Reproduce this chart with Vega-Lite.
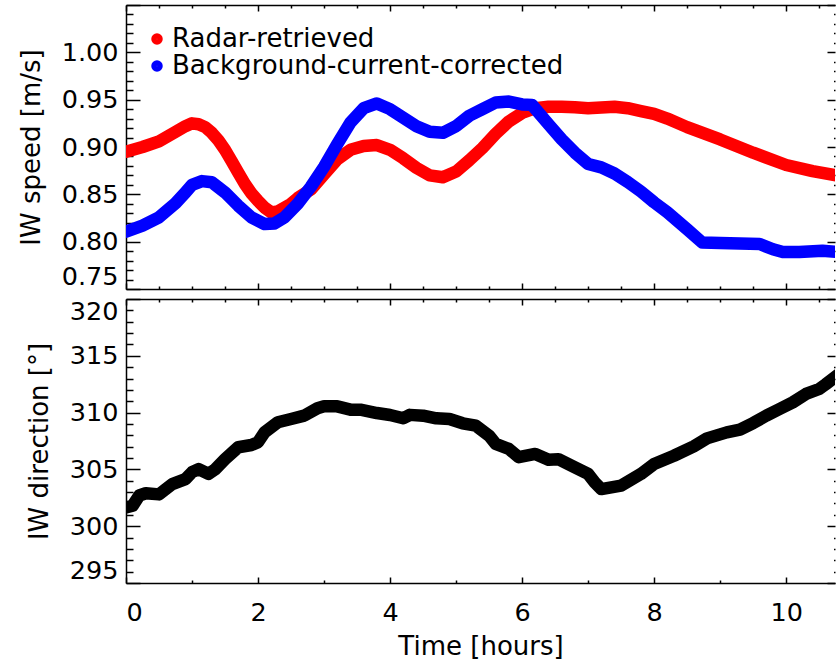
{
  "$schema": "https://vega.github.io/schema/vega-lite/v6.json",
  "padding": {"left": 18, "top": 2, "right": 0, "bottom": 0},
  "background": "white",
  "config": {
    "font": "DejaVu Sans",
    "view": {"stroke": null},
    "axis": {
      "domainColor": "black", "tickColor": "black", "domainWidth": 1.5, "tickWidth": 1.5,
      "labelColor": "black", "titleColor": "black", "labelFont": "DejaVu Sans", "titleFont": "DejaVu Sans",
      "labelFontSize": 25.5, "titleFontSize": 26, "titleFontWeight": "normal", "grid": false, "labelOverlap": false
    }
  },
  "datasets": {
    "speed": [
      {"series": "Radar-retrieved", "t": 0, "v": 0.895},
      {"series": "Radar-retrieved", "t": 0.25, "v": 0.900},
      {"series": "Radar-retrieved", "t": 0.5, "v": 0.906},
      {"series": "Radar-retrieved", "t": 0.75, "v": 0.916},
      {"series": "Radar-retrieved", "t": 0.9, "v": 0.922},
      {"series": "Radar-retrieved", "t": 1.0, "v": 0.925},
      {"series": "Radar-retrieved", "t": 1.1, "v": 0.924},
      {"series": "Radar-retrieved", "t": 1.2, "v": 0.921},
      {"series": "Radar-retrieved", "t": 1.3, "v": 0.915},
      {"series": "Radar-retrieved", "t": 1.4, "v": 0.907},
      {"series": "Radar-retrieved", "t": 1.5, "v": 0.897},
      {"series": "Radar-retrieved", "t": 1.6, "v": 0.885},
      {"series": "Radar-retrieved", "t": 1.7, "v": 0.873},
      {"series": "Radar-retrieved", "t": 1.8, "v": 0.861},
      {"series": "Radar-retrieved", "t": 1.9, "v": 0.851},
      {"series": "Radar-retrieved", "t": 2.0, "v": 0.843},
      {"series": "Radar-retrieved", "t": 2.1, "v": 0.836},
      {"series": "Radar-retrieved", "t": 2.2, "v": 0.831},
      {"series": "Radar-retrieved", "t": 2.3, "v": 0.832},
      {"series": "Radar-retrieved", "t": 2.4, "v": 0.836},
      {"series": "Radar-retrieved", "t": 2.5, "v": 0.840},
      {"series": "Radar-retrieved", "t": 2.6, "v": 0.846},
      {"series": "Radar-retrieved", "t": 2.8, "v": 0.855},
      {"series": "Radar-retrieved", "t": 3.0, "v": 0.871},
      {"series": "Radar-retrieved", "t": 3.2, "v": 0.887},
      {"series": "Radar-retrieved", "t": 3.4, "v": 0.897},
      {"series": "Radar-retrieved", "t": 3.6, "v": 0.901},
      {"series": "Radar-retrieved", "t": 3.8, "v": 0.902},
      {"series": "Radar-retrieved", "t": 4.0, "v": 0.897},
      {"series": "Radar-retrieved", "t": 4.2, "v": 0.888},
      {"series": "Radar-retrieved", "t": 4.4, "v": 0.878},
      {"series": "Radar-retrieved", "t": 4.6, "v": 0.870},
      {"series": "Radar-retrieved", "t": 4.8, "v": 0.868},
      {"series": "Radar-retrieved", "t": 5.0, "v": 0.874},
      {"series": "Radar-retrieved", "t": 5.2, "v": 0.886},
      {"series": "Radar-retrieved", "t": 5.4, "v": 0.899},
      {"series": "Radar-retrieved", "t": 5.6, "v": 0.914},
      {"series": "Radar-retrieved", "t": 5.8, "v": 0.927},
      {"series": "Radar-retrieved", "t": 6.0, "v": 0.936},
      {"series": "Radar-retrieved", "t": 6.2, "v": 0.941},
      {"series": "Radar-retrieved", "t": 6.4, "v": 0.9425},
      {"series": "Radar-retrieved", "t": 6.6, "v": 0.9425},
      {"series": "Radar-retrieved", "t": 6.8, "v": 0.942},
      {"series": "Radar-retrieved", "t": 7.0, "v": 0.941},
      {"series": "Radar-retrieved", "t": 7.2, "v": 0.9418},
      {"series": "Radar-retrieved", "t": 7.4, "v": 0.9425},
      {"series": "Radar-retrieved", "t": 7.6, "v": 0.941},
      {"series": "Radar-retrieved", "t": 7.8, "v": 0.938},
      {"series": "Radar-retrieved", "t": 8.0, "v": 0.935},
      {"series": "Radar-retrieved", "t": 8.2, "v": 0.930},
      {"series": "Radar-retrieved", "t": 8.5, "v": 0.921},
      {"series": "Radar-retrieved", "t": 9.0, "v": 0.908},
      {"series": "Radar-retrieved", "t": 9.5, "v": 0.894},
      {"series": "Radar-retrieved", "t": 10.0, "v": 0.881},
      {"series": "Radar-retrieved", "t": 10.4, "v": 0.8745},
      {"series": "Radar-retrieved", "t": 10.8, "v": 0.8695},
      {"series": "Background-current-corrected", "t": 0, "v": 0.8105},
      {"series": "Background-current-corrected", "t": 0.25, "v": 0.817},
      {"series": "Background-current-corrected", "t": 0.5, "v": 0.8257},
      {"series": "Background-current-corrected", "t": 0.75, "v": 0.8405},
      {"series": "Background-current-corrected", "t": 0.9, "v": 0.852},
      {"series": "Background-current-corrected", "t": 1.0, "v": 0.860},
      {"series": "Background-current-corrected", "t": 1.15, "v": 0.864},
      {"series": "Background-current-corrected", "t": 1.3, "v": 0.8627},
      {"series": "Background-current-corrected", "t": 1.5, "v": 0.852},
      {"series": "Background-current-corrected", "t": 1.7, "v": 0.838},
      {"series": "Background-current-corrected", "t": 1.9, "v": 0.8257},
      {"series": "Background-current-corrected", "t": 2.1, "v": 0.8186},
      {"series": "Background-current-corrected", "t": 2.25, "v": 0.8193},
      {"series": "Background-current-corrected", "t": 2.4, "v": 0.8257},
      {"series": "Background-current-corrected", "t": 2.6, "v": 0.840},
      {"series": "Background-current-corrected", "t": 2.8, "v": 0.858},
      {"series": "Background-current-corrected", "t": 3.0, "v": 0.879},
      {"series": "Background-current-corrected", "t": 3.2, "v": 0.903},
      {"series": "Background-current-corrected", "t": 3.4, "v": 0.926},
      {"series": "Background-current-corrected", "t": 3.6, "v": 0.941},
      {"series": "Background-current-corrected", "t": 3.8, "v": 0.946},
      {"series": "Background-current-corrected", "t": 4.0, "v": 0.940},
      {"series": "Background-current-corrected", "t": 4.2, "v": 0.931},
      {"series": "Background-current-corrected", "t": 4.4, "v": 0.922},
      {"series": "Background-current-corrected", "t": 4.6, "v": 0.916},
      {"series": "Background-current-corrected", "t": 4.8, "v": 0.915},
      {"series": "Background-current-corrected", "t": 5.0, "v": 0.922},
      {"series": "Background-current-corrected", "t": 5.2, "v": 0.933},
      {"series": "Background-current-corrected", "t": 5.4, "v": 0.940},
      {"series": "Background-current-corrected", "t": 5.6, "v": 0.947},
      {"series": "Background-current-corrected", "t": 5.8, "v": 0.948},
      {"series": "Background-current-corrected", "t": 6.0, "v": 0.945},
      {"series": "Background-current-corrected", "t": 6.15, "v": 0.9445},
      {"series": "Background-current-corrected", "t": 6.4, "v": 0.924},
      {"series": "Background-current-corrected", "t": 6.6, "v": 0.908},
      {"series": "Background-current-corrected", "t": 6.8, "v": 0.894},
      {"series": "Background-current-corrected", "t": 7.0, "v": 0.882},
      {"series": "Background-current-corrected", "t": 7.2, "v": 0.8785},
      {"series": "Background-current-corrected", "t": 7.4, "v": 0.872},
      {"series": "Background-current-corrected", "t": 7.6, "v": 0.863},
      {"series": "Background-current-corrected", "t": 7.8, "v": 0.853},
      {"series": "Background-current-corrected", "t": 8.0, "v": 0.8415},
      {"series": "Background-current-corrected", "t": 8.2, "v": 0.831},
      {"series": "Background-current-corrected", "t": 8.5, "v": 0.813},
      {"series": "Background-current-corrected", "t": 8.73, "v": 0.799},
      {"series": "Background-current-corrected", "t": 9.0, "v": 0.7985},
      {"series": "Background-current-corrected", "t": 9.3, "v": 0.798},
      {"series": "Background-current-corrected", "t": 9.6, "v": 0.7975},
      {"series": "Background-current-corrected", "t": 9.8, "v": 0.792},
      {"series": "Background-current-corrected", "t": 9.95, "v": 0.789},
      {"series": "Background-current-corrected", "t": 10.2, "v": 0.789},
      {"series": "Background-current-corrected", "t": 10.55, "v": 0.7905},
      {"series": "Background-current-corrected", "t": 10.8, "v": 0.789}
    ],
    "dir": [
      {"t": 0, "d": 301.66}, {"t": 0.1, "d": 301.8}, {"t": 0.2, "d": 302.7}, {"t": 0.3, "d": 302.9},
      {"t": 0.5, "d": 302.8}, {"t": 0.7, "d": 303.7}, {"t": 0.9, "d": 304.15}, {"t": 1.0, "d": 304.75},
      {"t": 1.1, "d": 305.03}, {"t": 1.25, "d": 304.6}, {"t": 1.35, "d": 305.0}, {"t": 1.5, "d": 305.9},
      {"t": 1.7, "d": 306.95}, {"t": 1.9, "d": 307.15}, {"t": 2.0, "d": 307.4}, {"t": 2.1, "d": 308.27},
      {"t": 2.3, "d": 309.15}, {"t": 2.5, "d": 309.44}, {"t": 2.7, "d": 309.73}, {"t": 2.9, "d": 310.38},
      {"t": 3.0, "d": 310.55}, {"t": 3.2, "d": 310.55}, {"t": 3.4, "d": 310.26}, {"t": 3.55, "d": 310.26},
      {"t": 3.8, "d": 309.96}, {"t": 4.0, "d": 309.79}, {"t": 4.2, "d": 309.5}, {"t": 4.3, "d": 309.8},
      {"t": 4.5, "d": 309.73}, {"t": 4.7, "d": 309.5}, {"t": 4.9, "d": 309.44}, {"t": 5.1, "d": 309.06},
      {"t": 5.3, "d": 308.85}, {"t": 5.5, "d": 307.97}, {"t": 5.6, "d": 307.24}, {"t": 5.8, "d": 306.8},
      {"t": 5.95, "d": 306.07}, {"t": 6.2, "d": 306.36}, {"t": 6.4, "d": 305.85}, {"t": 6.55, "d": 305.9},
      {"t": 6.8, "d": 305.18}, {"t": 7.0, "d": 304.6}, {"t": 7.1, "d": 303.86}, {"t": 7.2, "d": 303.27},
      {"t": 7.5, "d": 303.57}, {"t": 7.8, "d": 304.6}, {"t": 8.0, "d": 305.48}, {"t": 8.3, "d": 306.2},
      {"t": 8.6, "d": 307.03}, {"t": 8.8, "d": 307.73}, {"t": 9.1, "d": 308.26}, {"t": 9.3, "d": 308.5},
      {"t": 9.5, "d": 309.08}, {"t": 9.7, "d": 309.73}, {"t": 9.9, "d": 310.32}, {"t": 10.1, "d": 310.9},
      {"t": 10.3, "d": 311.64}, {"t": 10.5, "d": 312.08}, {"t": 10.6, "d": 312.5}, {"t": 10.8, "d": 313.4}
    ]
  },
  "vconcat": [
    {
      "width": 709,
      "height": 284,
      "data": {"name": "speed"},
      "layer": [
        {
          "mark": {"type": "line", "strokeWidth": 12.5, "strokeCap": "round", "strokeJoin": "round", "clip": true},
          "encoding": {
            "x": {
              "field": "t", "type": "quantitative",
              "scale": {"domain": [0, 10.74], "nice": false, "zero": false},
              "axis": {
                "orient": "bottom", "labels": false, "title": null, "offset": 0,
                "values": [0,0.5,1,1.5,2,2.5,3,3.5,4,4.5,5,5.5,6,6.5,7,7.5,8,8.5,9,9.5,10,10.5],
                "tickSize": {"condition": {"test": "datum.value % 2 === 0", "value": -6}, "value": -3}
              }
            },
            "y": {
              "field": "v", "type": "quantitative",
              "scale": {"domain": [0.75, 1.05], "nice": false, "zero": false},
              "axis": {
                "orient": "left", "title": "IW speed [m/s]", "offset": 0, "format": ".2f",
                "values": [0.75,0.76,0.77,0.78,0.79,0.8,0.81,0.82,0.83,0.84,0.85,0.86,0.87,0.88,0.89,0.9,0.91,0.92,0.93,0.94,0.95,0.96,0.97,0.98,0.99,1,1.01,1.02,1.03,1.04,1.05],
                "labelExpr": "abs(datum.value*20 - round(datum.value*20)) < 0.001 && datum.value < 1.04 ? datum.label : ''",
                "tickSize": {"condition": {"test": "abs(datum.value*20 - round(datum.value*20)) < 0.001", "value": -14}, "value": -7},
                "labelPadding": 22, "labelFlush": true, "titlePadding": 17
              }
            },
            "color": {
              "field": "series", "type": "nominal",
              "scale": {"domain": ["Radar-retrieved", "Background-current-corrected"], "range": ["#ff0000", "#0000ff"]},
              "legend": {
                "orient": "none", "legendX": 18, "legendY": 21, "title": null,
                "symbolType": "circle", "symbolSize": 36, "symbolStrokeWidth": 5.5, "symbolOpacity": 1,
                "labelFont": "DejaVu Sans", "labelFontSize": 26, "labelColor": "black", "labelOffset": 2,
                "rowPadding": -6, "labelLimit": 0
              }
            }
          }
        },
        {
          "mark": {"type": "line", "opacity": 0, "clip": true},
          "encoding": {
            "x": {
              "field": "t", "type": "quantitative",
              "axis": {
                "orient": "top", "labels": false, "title": null, "offset": 0,
                "values": [0,0.5,1,1.5,2,2.5,3,3.5,4,4.5,5,5.5,6,6.5,7,7.5,8,8.5,9,9.5,10,10.5],
                "tickSize": {"condition": {"test": "datum.value % 2 === 0", "value": -6}, "value": -3}
              }
            },
            "y": {
              "field": "v", "type": "quantitative",
              "axis": {
                "orient": "right", "labels": false, "title": null, "domain": false, "offset": 0,
                "values": [0.75,0.76,0.77,0.78,0.79,0.8,0.81,0.82,0.83,0.84,0.85,0.86,0.87,0.88,0.89,0.9,0.91,0.92,0.93,0.94,0.95,0.96,0.97,0.98,0.99,1,1.01,1.02,1.03,1.04,1.05],
                "tickSize": {"condition": {"test": "abs(datum.value*20 - round(datum.value*20)) < 0.001", "value": -8}, "value": -1.5}
              }
            }
          }
        }
      ],
      "resolve": {"axis": {"x": "independent", "y": "independent"}}
    },
    {
      "width": 709,
      "height": 284,
      "data": {"name": "dir"},
      "layer": [
        {
          "mark": {"type": "line", "strokeWidth": 12.5, "strokeCap": "round", "strokeJoin": "round", "clip": true, "color": "black"},
          "encoding": {
            "x": {
              "field": "t", "type": "quantitative",
              "scale": {"domain": [0, 10.74], "nice": false, "zero": false},
              "axis": {
                "orient": "bottom", "title": "Time [hours]", "offset": 0, "format": "d",
                "values": [0,0.5,1,1.5,2,2.5,3,3.5,4,4.5,5,5.5,6,6.5,7,7.5,8,8.5,9,9.5,10,10.5],
                "labelExpr": "datum.value % 2 === 0 ? datum.label : ''",
                "tickSize": {"condition": {"test": "datum.value % 2 === 0", "value": -6}, "value": -3},
                "labelPadding": 23, "titlePadding": 5
              }
            },
            "y": {
              "field": "d", "type": "quantitative",
              "scale": {"domain": [295, 320], "nice": false, "zero": false},
              "axis": {
                "orient": "left", "title": "IW direction [°]", "offset": 0, "format": "d",
                "values": [295,296,297,298,299,300,301,302,303,304,305,306,307,308,309,310,311,312,313,314,315,316,317,318,319,320],
                "labelExpr": "datum.value % 5 === 0 ? datum.label : ''",
                "tickSize": {"condition": {"test": "datum.value % 5 === 0", "value": -14}, "value": -7},
                "labelPadding": 22, "labelFlush": true, "titlePadding": 17
              }
            }
          }
        },
        {
          "mark": {"type": "line", "opacity": 0, "clip": true},
          "encoding": {
            "x": {
              "field": "t", "type": "quantitative",
              "axis": {
                "orient": "top", "labels": false, "title": null, "offset": 0,
                "values": [0,0.5,1,1.5,2,2.5,3,3.5,4,4.5,5,5.5,6,6.5,7,7.5,8,8.5,9,9.5,10,10.5],
                "tickSize": {"condition": {"test": "datum.value % 2 === 0", "value": -6}, "value": -3}
              }
            },
            "y": {
              "field": "d", "type": "quantitative",
              "axis": {
                "orient": "right", "labels": false, "title": null, "domain": false, "offset": 0,
                "values": [295,296,297,298,299,300,301,302,303,304,305,306,307,308,309,310,311,312,313,314,315,316,317,318,319,320],
                "tickSize": {"condition": {"test": "datum.value % 5 === 0", "value": -8}, "value": -1.5}
              }
            }
          }
        }
      ],
      "resolve": {"axis": {"x": "independent", "y": "independent"}}
    }
  ],
  "spacing": 4,
  "resolve": {"scale": {"color": "independent"}, "legend": {"color": "independent"}}
}
